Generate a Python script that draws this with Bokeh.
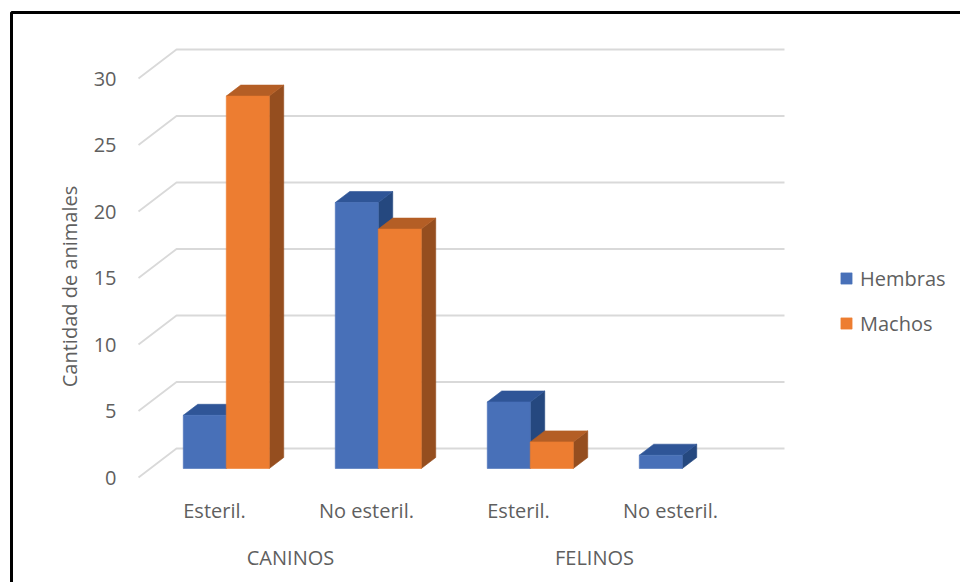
from bokeh.plotting import figure
from bokeh.models import Range1d, ColumnDataSource, Legend, LegendItem
from bokeh.core.properties import value
from bokeh.embed import file_html
from bokeh.resources import INLINE

# ---- data ----
groups = ["CANINOS", "FELINOS"]
categories = ["Esteril.", "No esteril.", "Esteril.", "No esteril."]
series = ["Hembras", "Machos"]
hembras = [4, 20, 5, 1]
machos = [28, 18, 2, 0]
y_ticks = [0, 5, 10, 15, 20, 25, 30]

# ---- styling / layout ----
W, H = 960, 582
X0_PX, SLOT_PX, Y0_PX, UNIT_PX = 138.0, 152.0, 477.0, 13.3
FONT = value("Open Sans")
TXT = "#5F5F5F"
face_colors = {
    "Hembras": ("#4870B8", "#2F5597", "#25487F"),   # front, top, side
    "Machos": ("#ED7D31", "#B45E25", "#954E1F"),
}

def px_x(px):
    return (px - X0_PX) / SLOT_PX

def px_y(py):
    return (Y0_PX - py) / UNIT_PX

DX = 38.0 / SLOT_PX          # full depth of floor, in slot units
DY = 29.0 / UNIT_PX          # full depth of floor, in value units
BAR_W = 43.0 / SLOT_PX
D0, D1 = 0.31, 0.69          # bar depth range (fraction of floor depth)

p = figure(width=W, height=H,
           x_range=Range1d(px_x(0), px_x(W)), y_range=Range1d(px_y(H), px_y(0)),
           output_backend="svg", toolbar_location=None, min_border=0,
           x_axis_location=None, y_axis_location=None, outline_line_color=None)
p.grid.visible = False
p.background_fill_color = "white"

# ---- gridlines (3D floor/back wall) ----
n = len(categories)
gx, gy = [], []
for t in y_ticks:
    gx.append([0, DX, n + DX])
    gy.append([t, t + DY, t + DY])
p.multi_line(gx, gy, line_color="#D9D9D9", line_width=1.8)

# ---- 3D bars ----
xs, ys, cols = [], [], []
legend_idx = {}
ox0, oy0 = D0 * DX, D0 * DY
ox1, oy1 = D1 * DX, D1 * DY
for k in range(n):
    for j, (name, vals) in enumerate(zip(series, [hembras, machos])):
        v = vals[k]
        if v <= 0:
            continue
        front, top, side = face_colors[name]
        x0 = k + 0.5 - BAR_W + j * BAR_W
        x1 = x0 + BAR_W
        # side
        xs.append([x1 + ox0, x1 + ox1, x1 + ox1, x1 + ox0])
        ys.append([oy0, oy1, v + oy1, v + oy0])
        cols.append(side)
        # top
        xs.append([x0 + ox0, x1 + ox0, x1 + ox1, x0 + ox1])
        ys.append([v + oy0, v + oy0, v + oy1, v + oy1])
        cols.append(top)
        # front
        xs.append([x0 + ox0, x1 + ox0, x1 + ox0, x0 + ox0])
        ys.append([oy0, oy0, v + oy0, v + oy0])
        cols.append(front)
        legend_idx.setdefault(name, len(cols) - 1)

src = ColumnDataSource(dict(xs=xs, ys=ys, c=cols))
bars = p.patches("xs", "ys", source=src, fill_color="c", line_color="c", line_width=0.6)

# ---- tick labels ----
p.text(x=[px_x(116)] * len(y_ticks), y=y_ticks, text=[str(t) for t in y_ticks],
       text_align="right", text_baseline="middle", text_font=FONT,
       text_font_size="20px", text_color=TXT)

# ---- category labels ----
p.text(x=[k + 0.5 for k in range(n)], y=[px_y(510)] * n, text=categories,
       text_align="center", text_baseline="middle", text_font=FONT,
       text_font_size="20px", text_color=TXT)
p.text(x=[2 * g + 1 for g in range(len(groups))], y=[px_y(557)] * len(groups), text=groups,
       text_align="center", text_baseline="middle", text_font=FONT,
       text_font_size="20px", text_color=TXT)

# ---- axis title ----
p.text(x=[px_x(69)], y=[px_y(286)], text=["Cantidad de animales"], angle=1.5707963,
       text_align="center", text_baseline="middle", text_font=FONT,
       text_font_size="20px", text_color=TXT)

# ---- chart border ----
p.line(x=[px_x(11), px_x(11), px_x(W + 5)], y=[px_y(H + 5), px_y(12), px_y(12)],
       line_color="black", line_width=3)

# ---- legend ----
legend = Legend(items=[LegendItem(label=s, renderers=[bars], index=legend_idx[s]) for s in series],
                location=(839, 244), orientation="vertical",
                glyph_width=14, glyph_height=14, label_standoff=7,
                label_text_font="Open Sans", label_text_font_size="20px",
                label_text_color=TXT, label_height=30, spacing=15,
                padding=0, margin=0, border_line_color=None, background_fill_alpha=0)
p.add_layout(legend)

open("out.html", "w").write(file_html(p, INLINE))
